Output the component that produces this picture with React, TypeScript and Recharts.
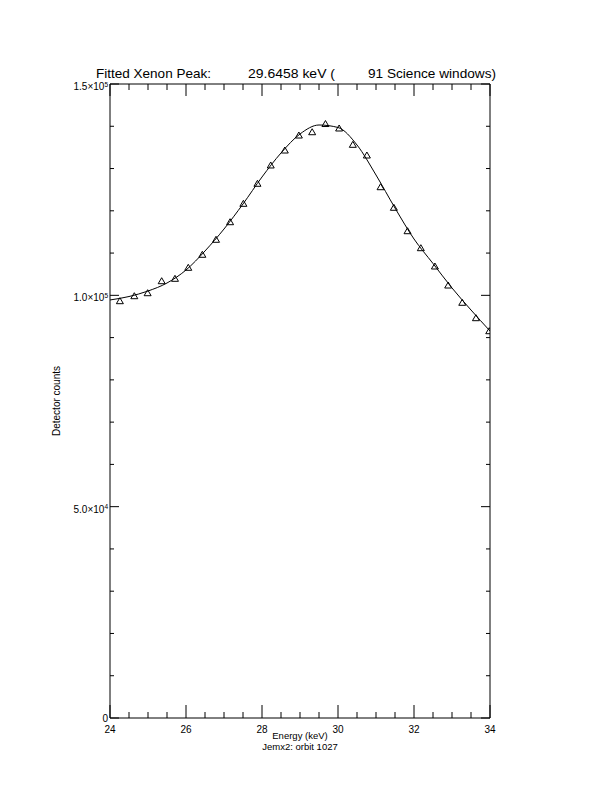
import React from 'react';
import { ComposedChart, Line, Scatter, XAxis, YAxis, Customized } from 'recharts';

// Fitted curve
const fitEnergy = [24.0, 24.5, 25.0, 25.5, 26.0, 26.5, 27.0, 27.5, 28.0, 28.5, 29.0, 29.5, 30.0, 30.5, 31.0, 31.5, 32.0, 32.5, 33.0, 33.5, 34.0];
const fitCounts = [98900, 99720, 101020, 102920, 105990, 110490, 115690, 121610, 128000, 133680, 138170, 140300, 139710, 135570, 128470, 120660, 113330, 107530, 101740, 96530, 91560];

// Measured points (triangles)
const obsEnergy = [24.26, 24.64, 24.99, 25.36, 25.71, 26.06, 26.43, 26.79, 27.16, 27.51, 27.88, 28.23, 28.6, 28.97, 29.32, 29.67, 30.03, 30.39, 30.76, 31.12, 31.47, 31.83, 32.18, 32.55, 32.9, 33.27, 33.63, 33.98];
const obsCounts = [98730, 99910, 100620, 103460, 104030, 106630, 109710, 113260, 117420, 121770, 126510, 130840, 134380, 137930, 138710, 140650, 139590, 135730, 133200, 125700, 120830, 115290, 111270, 106940, 102440, 98350, 94710, 91630];

// Axis ticks
const xTicks = [24, 24.5, 25, 25.5, 26, 26.5, 27, 27.5, 28, 28.5, 29, 29.5, 30, 30.5, 31, 31.5, 32, 32.5, 33, 33.5, 34];
const xMajor = [24, 26, 28, 30, 32, 34];
const xMajorText = ['24', '26', '28', '30', '32', '34'];
const yTicks = [0, 10000, 20000, 30000, 40000, 50000, 60000, 70000, 80000, 90000, 100000, 110000, 120000, 130000, 140000, 150000];
const yMajor = [0, 50000, 100000, 150000];
const yMantissa = ['0', '5.0\u00d710', '1.0\u00d710', '1.5\u00d710'];
const yExponent = ['', '4', '5', '5'];

const fitData = fitEnergy.map((x, i) => ({ x, y: fitCounts[i] }));
const obsData = obsEnergy.map((x, i) => ({ x, y: obsCounts[i] }));

const FONT = '"Liberation Sans", Arial, sans-serif';

const BottomTick = (props: any) => {
  const { x, y, payload } = props;
  const idx = xMajor.indexOf(payload.value);
  const major = idx >= 0;
  return (
    <g>
      <line x1={x} x2={x} y1={y} y2={y - (major ? 13 : 6)} stroke="#000" strokeWidth={1} />
      {major && (
        <text x={x} y={y + 15} textAnchor="middle" fontSize={10} fontFamily={FONT} fill="#000">
          {xMajorText[idx]}
        </text>
      )}
    </g>
  );
};

const TopTick = (props: any) => {
  const { x, y, payload } = props;
  const major = xMajor.indexOf(payload.value) >= 0;
  return <line x1={x} x2={x} y1={y} y2={y + (major ? 12 : 6)} stroke="#000" strokeWidth={1} />;
};

const LeftTick = (props: any) => {
  const { x, y, payload } = props;
  const idx = yMajor.indexOf(payload.value);
  const major = idx >= 0;
  const hasExp = major && yExponent[idx] !== '';
  return (
    <g>
      <line x1={x} x2={x + (major ? 9 : 4)} y1={y} y2={y} stroke="#000" strokeWidth={1} />
      {major && (
        <text x={x - 2} y={y + (hasExp ? 6 : 3.5)} textAnchor="end" fontSize={10} fontFamily={FONT} fill="#000">
          {yMantissa[idx]}
          {hasExp && (
            <tspan fontSize={6.5} dy={-3.5}>{yExponent[idx]}</tspan>
          )}
        </text>
      )}
    </g>
  );
};

const RightTick = (props: any) => {
  const { x, y, payload } = props;
  const major = yMajor.indexOf(payload.value) >= 0;
  return <line x1={x} x2={x - (major ? 9 : 4)} y1={y} y2={y} stroke="#000" strokeWidth={1} />;
};

const TriangleShape = (props: any) => {
  const { cx, cy } = props;
  if (cx == null || cy == null) return null;
  return (
    <path
      d={`M${cx},${cy - 3} L${cx + 3.5},${cy + 3} L${cx - 3.5},${cy + 3} Z`}
      fill="none"
      stroke="#000"
      strokeWidth={1}
    />
  );
};

const Texts = () => (
  <g fontFamily={FONT} fill="#000">
    <text x={96} y={78} fontSize={13} textLength={115} lengthAdjust="spacingAndGlyphs">Fitted Xenon Peak:</text>
    <text x={248} y={78} fontSize={13} textLength={87} lengthAdjust="spacingAndGlyphs">29.6458 keV (</text>
    <text x={368} y={78} fontSize={13} textLength={128} lengthAdjust="spacingAndGlyphs">91 Science windows)</text>
    <text x={300} y={739} fontSize={9.5} textAnchor="middle">Energy (keV)</text>
    <text x={300} y={750} fontSize={9.5} textAnchor="middle">Jemx2: orbit 1027</text>
    <text x={0} y={0} fontSize={10} textAnchor="middle" transform="translate(60,401) rotate(-90)">
      Detector counts
    </text>
  </g>
);

export default function App() {
  return (
    <div style={{ position: 'absolute', left: 0, top: 0, width: 612, height: 792, background: '#fff' }}>
      <ComposedChart
        width={612}
        height={792}
        margin={{ top: 83, right: 121, bottom: 73, left: 109 }}
      >
        <XAxis
          xAxisId="bottom"
          orientation="bottom"
          type="number"
          dataKey="x"
          domain={[24, 34]}
          allowDataOverflow
          ticks={xTicks}
          interval={0}
          height={1}
          tickSize={0}
          tickMargin={0}
          tickLine={false}
          axisLine={{ stroke: '#000', strokeWidth: 1 }}
          tick={BottomTick}
        />
        <XAxis
          xAxisId="top"
          orientation="top"
          type="number"
          dataKey="x"
          domain={[24, 34]}
          allowDataOverflow
          ticks={xTicks}
          interval={0}
          height={1}
          tickSize={0}
          tickMargin={0}
          tickLine={false}
          axisLine={{ stroke: '#000', strokeWidth: 1 }}
          tick={TopTick}
        />
        <YAxis
          yAxisId="left"
          orientation="left"
          type="number"
          domain={[0, 150000]}
          allowDataOverflow
          ticks={yTicks}
          interval={0}
          width={1}
          tickSize={0}
          tickMargin={0}
          tickLine={false}
          axisLine={{ stroke: '#000', strokeWidth: 1 }}
          tick={LeftTick}
        />
        <YAxis
          yAxisId="right"
          orientation="right"
          type="number"
          domain={[0, 150000]}
          allowDataOverflow
          ticks={yTicks}
          interval={0}
          width={1}
          tickSize={0}
          tickMargin={0}
          tickLine={false}
          axisLine={{ stroke: '#000', strokeWidth: 1 }}
          tick={RightTick}
        />
        <Line
          xAxisId="top"
          yAxisId="right"
          data={fitData}
          dataKey="y"
          type="monotone"
          stroke="#000"
          strokeWidth={1}
          dot={false}
          activeDot={false}
          isAnimationActive={false}
        />
        <Scatter
          xAxisId="bottom"
          yAxisId="left"
          data={obsData}
          dataKey="y"
          shape={TriangleShape}
          isAnimationActive={false}
        />
        <Customized component={Texts} />
      </ComposedChart>
    </div>
  );
}
